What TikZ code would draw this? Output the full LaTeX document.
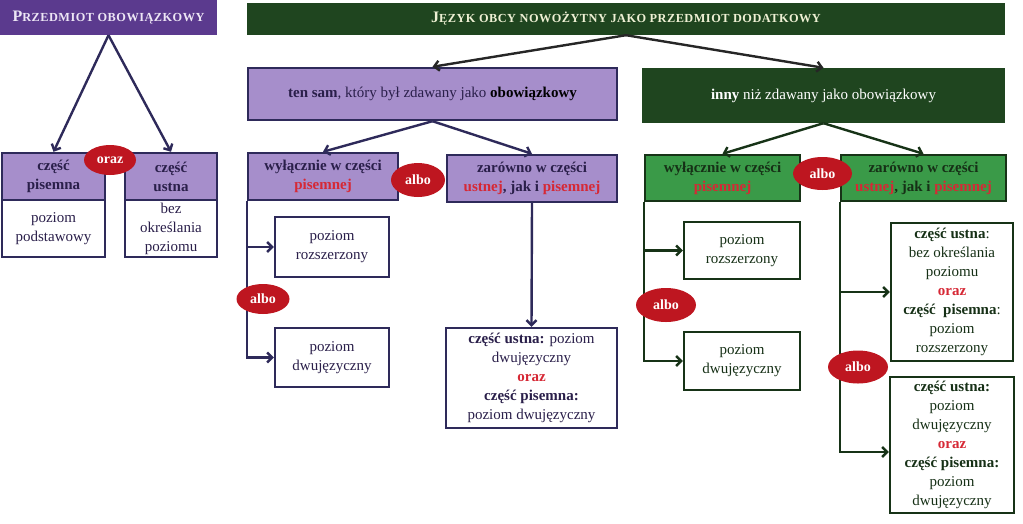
\documentclass[tikz,border=0pt]{standalone}
\usepackage{fontspec}
\setmainfont{Liberation Serif}
\usetikzlibrary{arrows.meta,shapes.geometric}
\definecolor{pdark}{HTML}{5B3A8E}
\definecolor{pline}{HTML}{2E2A5A}
\definecolor{lav}{HTML}{A68ECB}
\definecolor{gdark}{HTML}{1F451F}
\definecolor{gmid}{HTML}{3A9A48}
\definecolor{gline}{HTML}{173317}
\definecolor{redell}{HTML}{BE1620}
\definecolor{redtxt}{HTML}{D62835}
\definecolor{ptxt}{HTML}{2A1F4A}
\definecolor{gtxt}{HTML}{163016}
\definecolor{ptitletxt}{HTML}{EDE6F5}
\definecolor{gtitletxt}{HTML}{EEF0D4}
\tikzset{
  every node/.style={inner sep=0pt, align=center},
  ptitle/.style={rectangle, fill=pdark, text=ptitletxt},
  gtitle/.style={rectangle, fill=gdark, text=gtitletxt},
  pbox/.style={rectangle, draw=pline, line width=2.4pt, fill=lav, text=ptxt},
  pwbox/.style={rectangle, draw=pline, line width=2.4pt, fill=white, text=ptxt},
  gbox/.style={rectangle, draw=gline, line width=2.4pt, fill=gmid, text=gtxt},
  gwbox/.style={rectangle, draw=gline, line width=2.4pt, fill=white, text=gtxt},
  ginny/.style={rectangle, fill=gdark, text=white},
  oval/.style={ellipse, fill=redell, text=white, font=\fontsize{14}{16}\selectfont\bfseries},
  parr/.style={draw=pline, line width=2.4pt, -{Straight Barb[length=5pt,width=10pt]}},
  garr/.style={draw=gline, line width=2.4pt, -{Straight Barb[length=5pt,width=10pt]}},
  tarr/.style={draw=black!85, line width=2.4pt, -{Straight Barb[length=5pt,width=10pt]}},
  sc/.style={font=\bfseries\fontsize{16}{18}\selectfont\addfontfeature{LetterSpace=4}},
}
\newcommand{\smc}[2]{#1{\fontsize{12.3}{14}\selectfont #2}}
\newcommand{\rd}[1]{\textcolor{redtxt}{\textbf{#1}}}
\begin{document}
\begin{tikzpicture}[x=1pt,y=-1pt,font=\fontsize{15}{19}\selectfont]
\useasboundingbox (0,0) rectangle (1023,523);

% ---- left part
\node[ptitle, sc, minimum width=217pt, minimum height=35pt] (pobow) at (108.5,17.5)
  {\smc{P}{RZEDMIOT OBOWIĄZKOWY}};
\node[pbox, minimum width=103pt, minimum height=47pt] (cpish) at (53.5,176.5)
  {\textbf{część}\\\textbf{pisemna}};
\node[pwbox, minimum width=103pt, minimum height=57pt] (cpisb) at (53.5,228.5)
  {poziom\\podstawowy};
\node[pbox, minimum width=92pt, minimum height=47pt] (custh) at (171,176.5)
  {\textbf{część}\\\textbf{ustna}};
\node[pwbox, minimum width=92pt, minimum height=57pt] (custb) at (171,228.5)
  {bez\\określania\\poziomu};

\draw[parr] (pobow.south) -- (cpish.north);
\draw[parr] (pobow.south) -- (custh.north);

% ---- top green title
\node[gtitle, sc, minimum width=758pt, minimum height=32pt] (jezyk) at (626,19)
  {\smc{J}{ĘZYK OBCY NOWOŻYTNY JAKO PRZEDMIOT DODATKOWY}};

% ---- purple branch
\node[pbox, minimum width=369pt, minimum height=52pt] (tensam) at (432.5,94)
  {\textbf{ten sam}, który był zdawany jako \textcolor{black}{\textbf{obowiązkowy}}};
\node[pbox, minimum width=150pt, minimum height=47pt] (pwyl) at (323,176.5)
  {\textbf{wyłącznie w części}\\\rd{pisemnej}};
\node[pbox, minimum width=170pt, minimum height=47pt] (pzar) at (532,178.5)
  {\textbf{zarówno w części}\\\rd{ustnej}\textbf{, jak i }\rd{pisemnej}};
\node[pwbox, minimum width=114pt, minimum height=60pt] (proz) at (332,247)
  {poziom\\rozszerzony};
\node[pwbox, minimum width=114pt, minimum height=59pt] (pdwu) at (332,357.5)
  {poziom\\dwujęzyczny};
\node[pwbox, minimum width=171pt, minimum height=100pt] (pbig) at (531.5,378)
  {\textbf{część ustna:} poziom\\dwujęzyczny\\\rd{oraz}\\\textbf{część pisemna:}\\poziom dwujęzyczny};

% ---- green branch
\node[ginny, minimum width=363pt, minimum height=55pt] (inny) at (823.5,95.5)
  {\textbf{inny} niż zdawany jako obowiązkowy};
\node[gbox, minimum width=155pt, minimum height=46pt] (gwyl) at (722.5,178)
  {\textbf{wyłącznie w części}\\\rd{pisemnej}};
\node[gbox, minimum width=165pt, minimum height=46pt] (gzar) at (923.5,178)
  {\textbf{zarówno w części}\\\rd{ustnej}\textbf{, jak i }\rd{pisemnej}};
\node[gwbox, minimum width=116pt, minimum height=57pt] (groz) at (742,250.5)
  {poziom\\rozszerzony};
\node[gwbox, minimum width=116pt, minimum height=58pt] (gdwu) at (742,361)
  {poziom\\dwujęzyczny};
\node[gwbox, minimum width=122pt, minimum height=138pt] (gb1) at (952,292)
  {\textbf{część ustna}:\\bez określania\\poziomu\\\rd{oraz}\\\textbf{część\ \ pisemna}:\\poziom\\rozszerzony};
\node[gwbox, minimum width=124pt, minimum height=136pt] (gb2) at (952,445)
  {\textbf{część ustna:}\\poziom\\dwujęzyczny\\\rd{oraz}\\\textbf{część pisemna:}\\poziom\\dwujęzyczny};

% ---- connectors
\draw[tarr] (jezyk.south) -- (tensam.north);
\draw[tarr] (jezyk.south) -- (inny.north);
\draw[parr] (tensam.south) -- (pwyl.north);
\draw[parr] (tensam.south) -- (pzar.north);
\draw[parr] (pwyl.south west) |- (proz.west);
\draw[parr] (pwyl.south west) |- (pdwu.west);
\draw[parr] (pzar.south) -- (pbig.north);
\draw[garr] (inny.south) -- (gwyl.north);
\draw[garr] (inny.south) -- (gzar.north);
\draw[garr] (gwyl.south west) |- (groz.west);
\draw[garr] (gwyl.south west) |- (gdwu.west);
\draw[garr] (gzar.south west) |- (gb1.west);
\draw[garr] (gzar.south west) |- ([yshift=-7pt]gb2.west);

% ---- ovals
\node[oval, minimum width=52pt, minimum height=30pt] (oraz) at (110,160) {oraz};
\node[oval, minimum width=54pt, minimum height=34pt] (palbo1) at (418,180) {albo};
\node[oval, minimum width=53pt, minimum height=30pt] (palbo2) at (263,299) {albo};
\node[oval, minimum width=59pt, minimum height=33pt] (galbo1) at (822.5,173.5) {albo};
\node[oval, minimum width=60pt, minimum height=34pt] (galbo2) at (666,305) {albo};
\node[oval, minimum width=60pt, minimum height=33pt] (galbo3) at (858,367) {albo};
\end{tikzpicture}
\end{document}
